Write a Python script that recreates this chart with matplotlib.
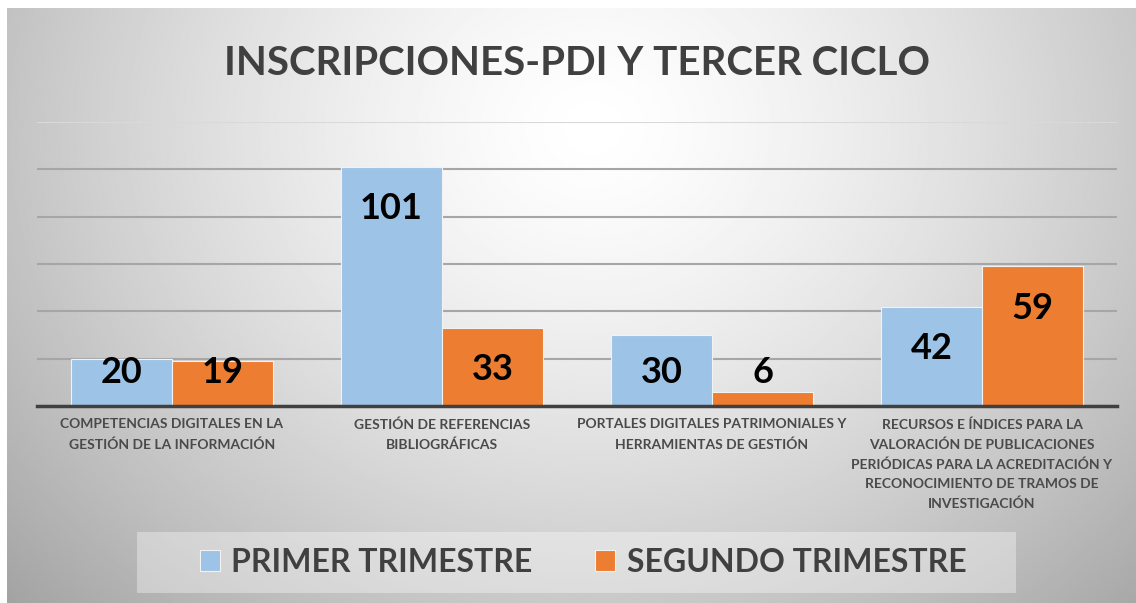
import numpy as np
import matplotlib.pyplot as plt
from matplotlib.patches import Rectangle

# Datos del gráfico
categorias = [
    'COMPETENCIAS DIGITALES EN LA\nGESTIÓN DE LA INFORMACIÓN',
    'GESTIÓN DE REFERENCIAS\nBIBLIOGRÁFICAS',
    'PORTALES DIGITALES PATRIMONIALES Y\nHERRAMIENTAS DE GESTIÓN',
    'RECURSOS E ÍNDICES PARA LA\nVALORACIÓN DE PUBLICACIONES\nPERIÓDICAS PARA LA ACREDITACIÓN Y\nRECONOCIMIENTO DE TRAMOS DE\nINVESTIGACIÓN',
]
primer_trimestre = [20, 101, 30, 42]
segundo_trimestre = [19, 33, 6, 59]
series = ['PRIMER TRIMESTRE', 'SEGUNDO TRIMESTRE']
titulo = 'INSCRIPCIONES-PDI Y TERCER CICLO'

plt.rcParams['font.family'] = ['Lato', 'DejaVu Sans']

W, H = 1136, 603
fig = plt.figure(figsize=(W / 100, H / 100), dpi=100)

# Fondo con degradado radial
bg = fig.add_axes([7 / W, 0, 1 - 7 / W, (H - 8) / H])
yy, xx = np.mgrid[0:1:300j, 0:1:600j]
r = np.sqrt(((xx - 0.52) / 0.58) ** 2 + ((yy - 0.2) / 0.95) ** 2)
val = 1 - 0.27 * np.clip(r, 0, 1.4) ** 1.4
bg.imshow(val, cmap='gray', vmin=0, vmax=1, aspect='auto', interpolation='bilinear')
bg.axis('off')

# Eje principal
ax = fig.add_axes([37 / W, 197 / H, 1080 / W, 284 / H])
ax.patch.set_alpha(0)
x = np.arange(len(categorias))
ancho = 0.375
b1 = ax.bar(x - ancho / 2, primer_trimestre, ancho, color='#9DC3E6',
            edgecolor='#f2f2f2', linewidth=0.8, label=series[0], zorder=3)
b2 = ax.bar(x + ancho / 2, segundo_trimestre, ancho, color='#ED7D31',
            edgecolor='#f2f2f2', linewidth=0.8, label=series[1], zorder=3)

ax.set_xlim(-0.5, len(categorias) - 0.5)
ax.set_ylim(0, 120)
ax.set_yticks(np.arange(0, 121, 20))
ax.yaxis.grid(True, color='#a6a6a6', linewidth=1.5, zorder=0)
ax.yaxis.get_gridlines()[-1].set_color('#d9d9d9')
ax.set_yticklabels([])
ax.tick_params(length=0)
for s in ['top', 'right', 'left']:
    ax.spines[s].set_visible(False)
ax.spines['bottom'].set_color('#404040')
ax.spines['bottom'].set_linewidth(2.5)
ax.spines['bottom'].set_zorder(4)

ax.set_xticks(x)
ax.set_xticklabels(categorias, fontsize=10, color='#4a4a4a', linespacing=1.72,
                   fontweight='bold')
ax.tick_params(axis='x', pad=9)

# Etiquetas de datos
for barras, valores in [(b1, primer_trimestre), (b2, segundo_trimestre)]:
    for rect, v in zip(barras, valores):
        ax.text(rect.get_x() + rect.get_width() / 2, max(v - 22.1, 9.7), str(v),
                ha='center', va='baseline', fontsize=26, fontweight='bold',
                color='black', zorder=5)

# Título
fig.text(577 / W, 1 - 75 / H, titulo, ha='center', va='baseline',
         fontsize=29, fontweight='bold', color='#404040')

# Leyenda
fig.patches.append(Rectangle((137 / W, 10 / H), 879 / W, 61 / H,
                             transform=fig.transFigure, facecolor='white',
                             alpha=0.35, edgecolor='none'))
leg = fig.legend(handles=[b1, b2], labels=series, loc='center',
                 bbox_to_anchor=(583 / W, (H - 562) / H), ncol=2, frameon=False,
                 prop={'size': 23, 'weight': 'bold'}, handlelength=0.63,
                 handleheight=0.63, handletextpad=0.35, columnspacing=1.97,
                 labelcolor='#404040')

fig.savefig('out.png', dpi=100)
